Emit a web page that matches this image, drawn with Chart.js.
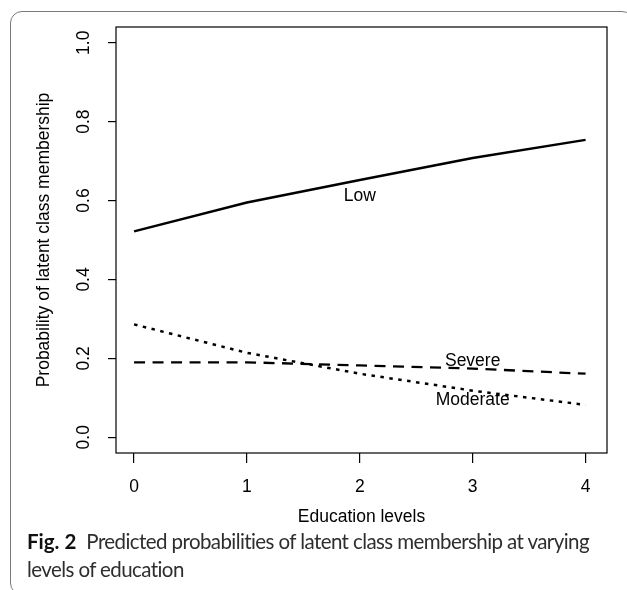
<!DOCTYPE html>
<html>
<head>
<meta charset="utf-8">
<script src="https://cdn.jsdelivr.net/npm/chart.js@4"></script>
<style>
  html, body { margin: 0; padding: 0; background: #fff; width: 627px; height: 590px; overflow: hidden; }
  #frame { position: absolute; left: 10px; top: 11px; width: 624px; height: 584px;
           border: 1.3px solid #7a7a7a; border-radius: 12px; box-sizing: border-box; }
  #chart { position: absolute; left: 0; top: 0; }
  #caption { position: absolute; left: 27px; top: 528px; font-family: Lato, "Open Sans", sans-serif;
             font-size: 20.5px; line-height: 27.5px; color: #2e2e2e; white-space: nowrap; }
  #caption b { color: #111; font-weight: 700; margin-right: 10px; }
</style>
</head>
<body>
<div id="frame"></div>
<canvas id="chart" width="627" height="530"></canvas>
<div id="caption"><b>Fig. 2</b><span id="cap1">Predicted probabilities of latent class membership at varying</span><br><span id="cap2">levels of education</span></div>
<script>
// ---- data ----
const educationLevels = [0, 1, 2, 3, 4];
const lowProb      = [0.522, 0.595, 0.652, 0.708, 0.754];
const moderateProb = [0.286, 0.214, 0.161, 0.118, 0.082];
const severeProb   = [0.190, 0.190, 0.182, 0.174, 0.161];
const xTickValues = [0, 1, 2, 3, 4];
const yTickValues = [0, 0.2, 0.4, 0.6, 0.8, 1.0];
const annotationTexts = ['Low', 'Severe', 'Moderate'];
const annotationX = [2, 3, 3];
const annotationY = [0.61, 0.193, 0.095];
const xTitle = 'Education levels';
const yTitle = 'Probability of latent class membership';

// fit the caption's first line to the reference width (layout only)
(function () {
  const s1 = document.getElementById('cap1');
  const s2 = document.getElementById('cap2');
  const target = 503;
  const n = s1.textContent.length;
  const w = s1.getBoundingClientRect().width;
  const ls = (target - w) / n;
  s1.style.letterSpacing = ls + 'px';
  s2.style.letterSpacing = ls + 'px';
})();

const toPoints = arr => educationLevels.map((x, i) => ({ x: x, y: arr[i] }));

Chart.defaults.font.family = '"Liberation Sans", Arial, sans-serif';
Chart.defaults.font.size = 17.5;
Chart.defaults.color = '#000';

const boxPlugin = {
  id: 'boxPlugin',
  afterDatasetsDraw(chart) {
    const { ctx, chartArea: a } = chart;
    ctx.save();
    ctx.strokeStyle = '#000';
    ctx.lineWidth = 1.2;
    ctx.strokeRect(a.left, a.top, a.right - a.left, a.bottom - a.top);
    ctx.restore();
  }
};

const labelPlugin = {
  id: 'labelPlugin',
  afterDatasetsDraw(chart) {
    const { ctx } = chart;
    const xs = chart.scales.x, ys = chart.scales.y;
    ctx.save();
    ctx.fillStyle = '#000';
    ctx.font = '17.5px "Liberation Sans", Arial, sans-serif';
    ctx.textAlign = 'center';
    ctx.textBaseline = 'middle';
    annotationTexts.forEach((t, i) => {
      ctx.fillText(t, xs.getPixelForValue(annotationX[i]), ys.getPixelForValue(annotationY[i]));
    });
    ctx.restore();
  }
};

new Chart(document.getElementById('chart'), {
  type: 'line',
  data: {
    datasets: [
      { label: 'Low', data: toPoints(lowProb), borderColor: '#000', borderWidth: 2.4,
        pointRadius: 0, tension: 0, fill: false },
      { label: 'Severe', data: toPoints(severeProb), borderColor: '#000', borderWidth: 2.3,
        borderDash: [11, 7.5], pointRadius: 0, tension: 0, fill: false },
      { label: 'Moderate', data: toPoints(moderateProb), borderColor: '#000', borderWidth: 2.5,
        borderDash: [3.5, 5.5], pointRadius: 0, tension: 0, fill: false }
    ]
  },
  options: {
    responsive: false,
    animation: false,
    devicePixelRatio: 1,
    layout: { padding: { left: 0, top: 27, right: 20, bottom: 0 } },
    plugins: { legend: { display: false }, tooltip: { enabled: false } },
    scales: {
      x: {
        type: 'linear', position: 'bottom', min: -0.16, max: 4.19,
        afterBuildTicks: s => { s.ticks = xTickValues.map(v => ({ value: v })); },
        afterFit: s => { s.height = 77; },
        ticks: { padding: 13.5, maxRotation: 0, minRotation: 0, autoSkip: false,
                 callback: v => String(v) },
        grid: { drawOnChartArea: false, drawTicks: true, tickLength: 10, color: '#000', lineWidth: 1.2 },
        border: { display: false },
        title: { display: true, text: xTitle, padding: { top: 0, bottom: 2.5 } }
      },
      y: {
        type: 'linear', position: 'left', min: -0.04, max: 1.04,
        afterBuildTicks: s => { s.ticks = yTickValues.map(v => ({ value: v })); },
        afterFit: s => { s.width = 116; },
        ticks: { padding: 11.8, minRotation: 90, maxRotation: 90, crossAlign: 'center', autoSkip: false,
                 callback: v => v.toFixed(1) },
        grid: { drawOnChartArea: false, drawTicks: true, tickLength: 8, color: '#000', lineWidth: 1.2 },
        border: { display: false },
        title: { display: true, text: yTitle, padding: { top: 33.5, bottom: 0 } }
      }
    }
  },
  plugins: [boxPlugin, labelPlugin]
});
</script>
</body>
</html>
